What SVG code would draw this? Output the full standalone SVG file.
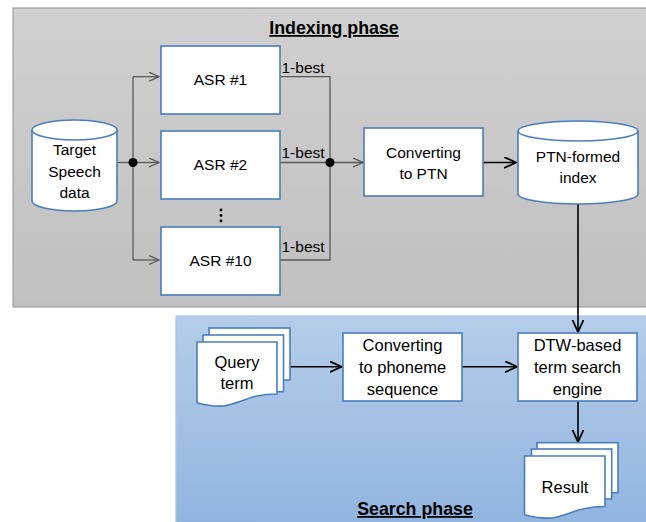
<svg xmlns="http://www.w3.org/2000/svg" width="646" height="522" viewBox="0 0 646 522">
<defs>
<linearGradient id="gGray" x1="0" y1="0" x2="0" y2="1">
<stop offset="0" stop-color="#d0d0d0"/><stop offset="1" stop-color="#c0c0c0"/>
</linearGradient>
<linearGradient id="gBlue" x1="0" y1="0" x2="0" y2="1">
<stop offset="0" stop-color="#b5cde9"/><stop offset="1" stop-color="#8fb3df"/>
</linearGradient>
<marker id="aGray" markerWidth="12" markerHeight="12" refX="10" refY="5" orient="auto" markerUnits="userSpaceOnUse">
<path d="M0,0.5 L10,5 L0,9.5" fill="none" stroke="#595959" stroke-width="1.3"/>
</marker>
<marker id="aBlack" markerWidth="14" markerHeight="14" refX="12" refY="6" orient="auto" markerUnits="userSpaceOnUse">
<path d="M0,0.5 L12,6 L0,11.5" fill="none" stroke="#000" stroke-width="1.8"/>
</marker>
</defs>
<style>
.box{fill:#fff;stroke:#4a7ebb;stroke-width:1.6}
.t{font-family:"Liberation Sans",Arial,sans-serif;font-size:15.5px;fill:#000;text-anchor:middle}
.ts{font-family:"Liberation Sans",Arial,sans-serif;font-size:16.5px;fill:#000;text-anchor:middle}
.lbl{font-family:"Liberation Sans",Arial,sans-serif;font-size:15.5px;fill:#000}
.title{font-family:"Liberation Sans",Arial,sans-serif;font-size:17.8px;font-weight:bold;fill:#000;text-anchor:middle;text-decoration:underline}
.gl{fill:none;stroke:#595959;stroke-width:1.3}
.bl{fill:none;stroke:#000;stroke-width:1.6}
</style>

<g id="indexing-panel">
<rect x="13" y="8" width="640" height="299" fill="url(#gGray)" stroke="#a0a0a0" stroke-width="1.2"/>
<text class="title" x="334" y="34">Indexing phase</text>
</g>
<g id="search-panel">
<rect x="176" y="316" width="480" height="220" fill="url(#gBlue)" stroke="#a9c5e8" stroke-width="1.2"/>
<text class="title" x="415" y="515">Search phase</text>
</g>

<g id="connectors">
<path class="gl" d="M117,162.5 H133"/>
<path class="gl" d="M133,76.7 V260"/>
<path class="gl" d="M133,76.7 H159" marker-end="url(#aGray)"/>
<path class="gl" d="M133,162.5 H159" marker-end="url(#aGray)"/>
<path class="gl" d="M133,260 H159" marker-end="url(#aGray)"/>
<circle cx="133" cy="162.5" r="4.5" fill="#000"/>
<path class="gl" d="M280,76.7 H330 V260 H280"/>
<path class="gl" d="M280,162.5 H330"/>
<path class="gl" d="M330,162.5 H363" marker-end="url(#aGray)"/>
<circle cx="330" cy="162.5" r="4.5" fill="#000"/>
<text class="lbl" x="281.5" y="73">1-best</text>
<text class="lbl" x="281.5" y="158">1-best</text>
<text class="lbl" x="281.5" y="252">1-best</text>
<path class="bl" d="M483,162.5 H516" marker-end="url(#aBlack)"/>
<path class="bl" d="M578,204 V332" marker-end="url(#aBlack)"/>
<path class="bl" d="M290,366.7 H341.5" marker-end="url(#aBlack)"/>
<path class="bl" d="M462,366.7 H517" marker-end="url(#aBlack)"/>
<path class="bl" d="M578,401 V442" marker-end="url(#aBlack)"/>
</g>

<g id="target-speech">
<path d="M32,130 V201 A42.5,10 0 0 0 117,201 V130" fill="#fff" stroke="#4a7ebb" stroke-width="1.6"/>
<ellipse cx="74.5" cy="130" rx="42.5" ry="10" fill="#fff" stroke="#4a7ebb" stroke-width="1.6"/>
<text class="t" x="74.5" y="155">Target</text>
<text class="t" x="74.5" y="177">Speech</text>
<text class="t" x="74.5" y="198">data</text>
</g>

<g id="asr1">
<rect class="box" x="161" y="46" width="119" height="68"/>
<text class="t" x="220.5" y="85">ASR #1</text>
</g>
<g id="asr2">
<rect class="box" x="161" y="131" width="119" height="68"/>
<text class="t" x="220.5" y="170">ASR #2</text>
</g>
<g id="dots">
<circle cx="221" cy="210" r="1.4" fill="#000"/>
<circle cx="221" cy="215.5" r="1.4" fill="#000"/>
<circle cx="221" cy="221" r="1.4" fill="#000"/>
</g>
<g id="asr10">
<rect class="box" x="161" y="227" width="119" height="68"/>
<text class="t" x="220.5" y="266">ASR #10</text>
</g>

<g id="convert-ptn">
<rect class="box" x="364" y="128" width="119" height="68"/>
<text class="t" x="423.5" y="158">Converting</text>
<text class="t" x="423.5" y="179">to PTN</text>
</g>

<g id="ptn-index">
<path d="M518,131 V194 A60,10 0 0 0 638,194 V131" fill="#fff" stroke="#4a7ebb" stroke-width="1.6"/>
<ellipse cx="578" cy="131" rx="60" ry="10" fill="#fff" stroke="#4a7ebb" stroke-width="1.6"/>
<text class="t" x="578" y="162">PTN-formed</text>
<text class="t" x="578" y="183">index</text>
</g>

<g id="query-term">
<rect class="box" x="209" y="328" width="81" height="52"/>
<rect class="box" x="203" y="335" width="80.5" height="56.7"/>
<path class="box" d="M197,342 H277 V394 C237,394 237,414 197,402.7 Z"/>
<text class="ts" x="237" y="368">Query</text>
<text class="ts" x="237" y="389">term</text>
</g>

<g id="convert-phoneme">
<rect class="box" x="343" y="333" width="119" height="68"/>
<text class="ts" x="402.5" y="351">Converting</text>
<text class="ts" x="402.5" y="373">to phoneme</text>
<text class="ts" x="402.5" y="395">sequence</text>
</g>

<g id="dtw-engine">
<rect class="box" x="518" y="333" width="119" height="68"/>
<text class="ts" x="577.5" y="351">DTW-based</text>
<text class="ts" x="577.5" y="373">term search</text>
<text class="ts" x="577.5" y="395">engine</text>
</g>

<g id="result">
<rect class="box" x="537" y="442.7" width="81" height="50"/>
<rect class="box" x="531.5" y="449" width="80.2" height="50"/>
<path class="box" d="M524.5,456 H605 V506.5 C565,506.5 565,525.7 524.5,514.8 Z"/>
<text class="ts" x="565" y="493">Result</text>
</g>
</svg>
